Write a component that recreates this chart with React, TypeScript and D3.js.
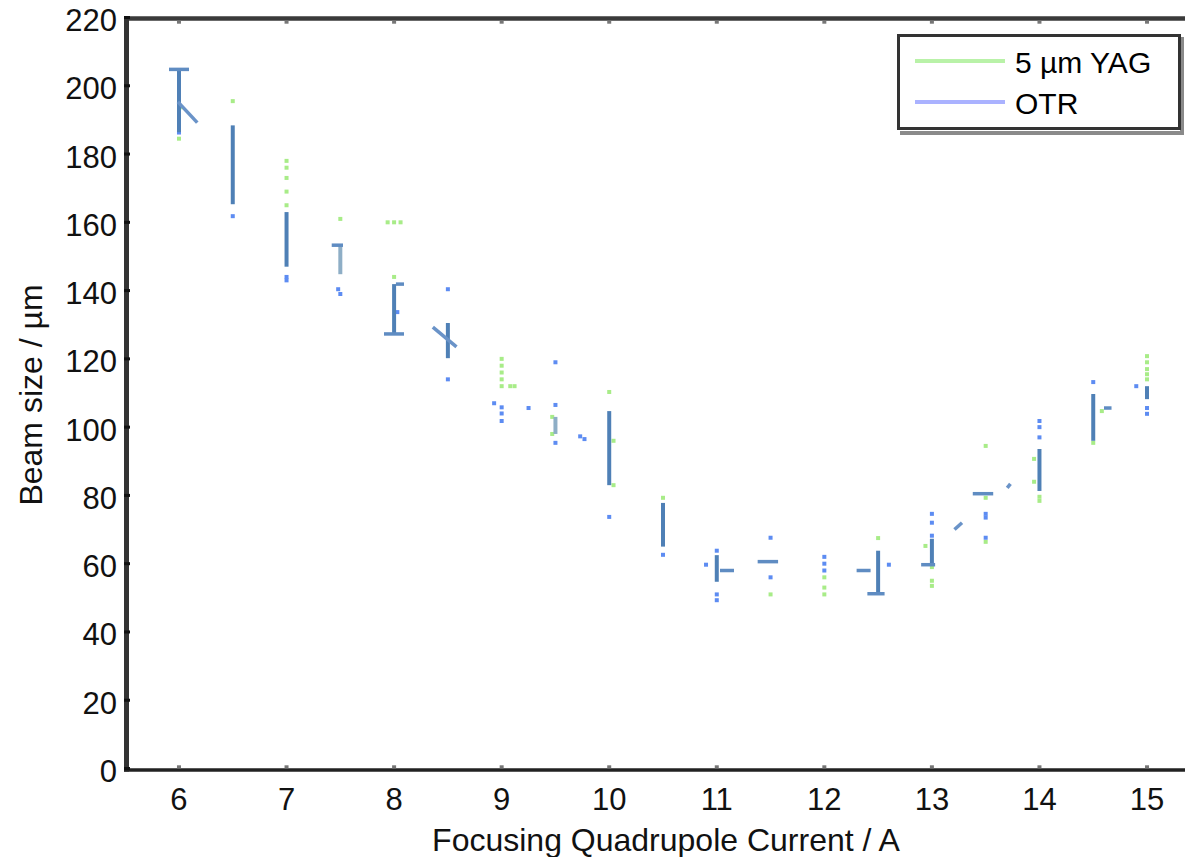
import React from "react";
import * as d3 from "d3";

// ---------- data (currents in A, beam sizes in µm) ----------
const xTicks = [6, 7, 8, 9, 10, 11, 12, 13, 14, 15];
const yTicks = [0, 20, 40, 60, 80, 100, 120, 140, 160, 180, 200, 220];

// OTR error bars: [current, low, high]
const otrBars: [number, number, number][] = [
  [6, 186.4, 204.8],
  [6.5, 165.3, 188.4],
  [7, 147, 163],
  [8, 127.3, 141.9],
  [8.5, 120.2, 130.5],
  [10, 83, 104.7],
  [10.5, 65, 77.8],
  [11, 54.7, 62.5],
  [12.5, 51.2, 63.8],
  [13, 59.7, 67.3],
  [14, 81.3, 93.6],
  [14.5, 96, 109.7],
  [15, 108.2, 112],
];

// YAG error bars: [current, low, high]
const yagBars: [number, number, number][] = [
  [7.5, 144.8, 153.3],
  [9.5, 98, 103],
];

// horizontal cap / mean marks: [current from, current to, size]
const otrCaps: [number, number, number][] = [
  [5.907, 6.093, 204.8],
  [7.42, 7.525, 153.3],
  [8.017, 8.092, 141.9],
  [7.906, 8.092, 127.3],
  [11.03, 11.16, 58],
  [11.38, 11.57, 60.6],
  [12.3, 12.43, 58],
  [12.4, 12.56, 51.2],
  [12.9, 13.03, 59.7],
  [13.38, 13.57, 80.5],
  [14.6, 14.67, 105.6],
];

// fragments of the OTR mean line: [x1, y1, x2, y2]
const otrTrend: [number, number, number, number][] = [
  [5.99, 195.3, 6.17, 189.2],
  [8.36, 129.3, 8.58, 123.5],
  [13.21, 70, 13.28, 72],
  [13.7, 82.2, 13.73, 83.4],
];

// individual OTR measurements: [current, size]
const otrPoints: [number, number][] = [
  [6, 186.3], [6.5, 161.8], [7, 144], [7, 143], [7.48, 140.4], [7.5, 139],
  [8.03, 133.7], [8.5, 140.4], [8.5, 114], [8.93, 107], [9, 105.8], [9, 104],
  [9, 101.8], [9.25, 105.6], [9.5, 119], [9.5, 106.5], [9.5, 95.4], [9.73, 97.3],
  [9.77, 96.5], [10, 73.7], [10.5, 62.6], [11, 63.8], [10.9, 59.7], [11, 51],
  [11, 49.3], [11.5, 67.6], [11.5, 56], [12, 62], [12, 60], [12, 58], [12.6, 59.7],
  [13, 74.6], [13, 72], [13, 68.2], [13.5, 74.6], [13.5, 73.5], [13.5, 67.6],
  [14, 101.8], [14, 100], [14, 97], [14.5, 113.2], [14.9, 112], [15, 105.6],
  [15, 103.9],
];

// individual 5 µm YAG measurements: [current, size]
const yagPoints: [number, number][] = [
  [6, 184.5], [6.02, 193.7], [6.5, 195.5], [7, 178], [7, 176], [7, 173], [7, 169],
  [7, 165], [7.5, 161], [7.94, 160], [8, 160], [8.06, 160], [8, 144], [9, 120],
  [9, 118], [9, 116], [9, 114], [9, 112], [9.08, 112], [9.12, 112], [9.47, 103],
  [9.47, 98], [10, 110.3], [10.04, 96], [10.04, 83], [10.5, 79.3], [11.5, 51],
  [12, 56], [12, 53], [12, 51], [12.5, 67.5], [12.94, 65.2], [13, 59], [13, 55],
  [13, 53.5], [13.5, 94.5], [13.5, 79.3], [13.5, 66.4], [13.95, 90.7], [13.95, 84],
  [14, 79.6], [14, 78.4], [14.5, 95.4], [14.58, 104.7], [15, 120.8], [15, 119],
  [15, 117], [15, 115.5], [15, 114],
];

const legendItems = [
  { label: "5 µm YAG", color: "#b9f2a8" },
  { label: "OTR", color: "#aab2ff" },
];

// ---------- component ----------
export default function App() {
  const W = 1185;
  const H = 857;
  const left = 126.5;
  const top = 18.5;
  const x = d3.scaleLinear().domain([5.5, 15.5]).range([125.2, 1200.8]);
  const y = d3.scaleLinear().domain([0, 220]).range([768.5, 17.5]);
  const bottom = y(0) + 1.5;
  const font = "'Liberation Sans', Arial, Helvetica, sans-serif";

  const dot = 4;
  const trendLine = d3.line<[number, number]>().x((d) => x(d[0])).y((d) => y(d[1]));

  return (
    <svg
      width={W}
      height={H}
      viewBox={`0 0 ${W} ${H}`}
      style={{ position: "absolute", left: 0, top: 0, background: "#fff" }}
    >
      {/* axes frame */}
      <line x1={left} x2={W} y1={top} y2={top} stroke="#3a3a3a" strokeWidth={4.5} />
      <line x1={left} x2={left} y1={top - 2} y2={bottom + 1.5} stroke="#333" strokeWidth={5} />
      <line x1={left - 2.5} x2={W} y1={bottom} y2={bottom} stroke="#222" strokeWidth={3.5} />

      {/* y ticks */}
      {yTicks.map((t) => (
        <g key={"yt" + t}>
          <rect x={left - 2.5} y={y(t) - 1.5} width={6} height={3} fill="#111" />
          <text
            x={117}
            y={y(t) + 13.5}
            textAnchor="end"
            fontFamily={font}
            fontSize={31}
            fill="#111"
          >
            {t}
          </text>
        </g>
      ))}

      {/* x ticks */}
      {xTicks.map((t) => (
        <g key={"xt" + t}>
          <rect x={x(t) - 2} y={top + 2.2} width={4} height={3} fill="#777" />
          <rect x={x(t) - 2} y={bottom - 4.7} width={4} height={3} fill="#777" />
          <text
            x={x(t)}
            y={810}
            textAnchor="middle"
            fontFamily={font}
            fontSize={31}
            fill="#111"
          >
            {t}
          </text>
        </g>
      ))}

      {/* axis titles */}
      <text
        x={666}
        y={851}
        textAnchor="middle"
        fontFamily={font}
        fontSize={32}
        fill="#111"
      >
        Focusing Quadrupole Current / A
      </text>
      <text
        transform={`translate(42,395) rotate(-90)`}
        textAnchor="middle"
        fontFamily={font}
        fontSize={32}
        fill="#111"
      >
        Beam size / µm
      </text>

      {/* YAG points */}
      {yagPoints.map((p, i) => (
        <rect
          key={"yp" + i}
          x={x(p[0]) - dot / 2}
          y={y(p[1]) - dot / 2}
          width={dot}
          height={dot}
          fill="#a8ec88"
        />
      ))}

      {/* YAG error bars */}
      {yagBars.map((b, i) => (
        <line
          key={"yb" + i}
          x1={x(b[0])}
          x2={x(b[0])}
          y1={y(b[1])}
          y2={y(b[2])}
          stroke="#8eaec6"
          strokeWidth={4}
        />
      ))}

      {/* OTR points */}
      {otrPoints.map((p, i) => (
        <rect
          key={"op" + i}
          x={x(p[0]) - dot / 2}
          y={y(p[1]) - dot / 2}
          width={dot}
          height={dot}
          fill="#5d8cf2"
        />
      ))}

      {/* OTR error bars */}
      {otrBars.map((b, i) => (
        <line
          key={"ob" + i}
          x1={x(b[0])}
          x2={x(b[0])}
          y1={y(b[1])}
          y2={y(b[2])}
          stroke="#4f80b6"
          strokeWidth={4}
        />
      ))}

      {/* caps */}
      {otrCaps.map((c, i) => (
        <line
          key={"oc" + i}
          x1={x(c[0])}
          x2={x(c[1])}
          y1={y(c[2])}
          y2={y(c[2])}
          stroke="#5f8cc2"
          strokeWidth={3.5}
        />
      ))}

      {/* mean line fragments */}
      {otrTrend.map((s, i) => (
        <path
          key={"ot" + i}
          d={trendLine([
            [s[0], s[1]],
            [s[2], s[3]],
          ]) as string}
          stroke="#6a93c8"
          strokeWidth={3.5}
          fill="none"
        />
      ))}

      {/* legend */}
      <g>
        <rect x={900} y={131} width={283} height={4} fill="#8a8a8a" />
        <rect x={1180} y={37} width={4} height={98} fill="#8a8a8a" />
        <rect x={898.5} y={35.5} width={281} height={93} fill="#fff" stroke="#333" strokeWidth={3} />
        {legendItems.map((it, i) => (
          <g key={"lg" + i}>
            <line
              x1={915}
              x2={1005}
              y1={61 + i * 41}
              y2={61 + i * 41}
              stroke={it.color}
              strokeWidth={4}
            />
            <text
              x={1015}
              y={73 + i * 41}
              fontFamily={font}
              fontSize={30}
              fill="#000"
            >
              {it.label}
            </text>
          </g>
        ))}
      </g>
    </svg>
  );
}
